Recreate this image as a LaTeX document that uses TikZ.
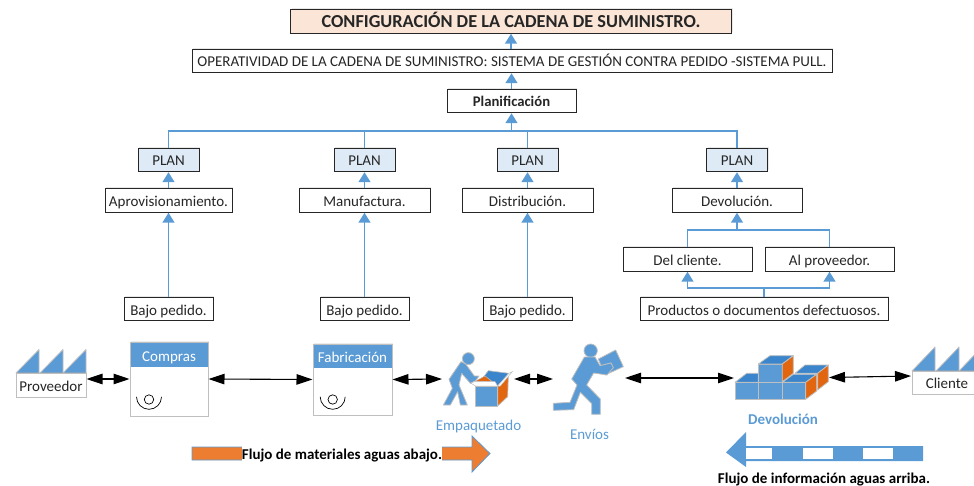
\documentclass[tikz,border=0pt]{standalone}
\usepackage{fontspec}
\setmainfont{Carlito}
\usetikzlibrary{arrows.meta,shadows}
\definecolor{azul}{HTML}{5B9BD5}
\definecolor{azuloscuro}{HTML}{3A85CC}
\definecolor{naranja}{HTML}{ED7D31}
\definecolor{naranjaoscuro}{HTML}{E2660F}
\definecolor{gris}{HTML}{BFBFBF}
\definecolor{salmon}{HTML}{FBE5D6}
\definecolor{celeste}{HTML}{DEEAF6}
\definecolor{texto}{HTML}{262626}
\tikzset{
	letra/.style={text height=13, text depth=1, font=\fontsize{15}{17}\selectfont},
	caja/.style={draw=black!85, line width=1, fill=white, text=texto, minimum height=23.5, inner sep=0, letra,
		drop shadow={shadow xshift=1, shadow yshift=-1.5, opacity=.18}},
	sube/.style={draw=azul, line width=1.5, -{Triangle[width=12, length=10]}},
	rama/.style={draw=azul, line width=1.5},
	doble/.style={black, line width=1.1, {Triangle[width=10.5, length=16]}-{Triangle[width=10.5, length=16]}},
	fabrica/.style={draw=gris, line width=1, fill=white, text=texto, inner sep=0, letra,
		drop shadow={shadow xshift=.5, shadow yshift=-1.5, opacity=.15}},
	ficha/.style={draw=gris, line width=1, fill=white, inner sep=0, drop shadow={shadow xshift=.5, shadow yshift=-1.5, opacity=.15}},
	cabecera/.style={fill=azul, text=white, inner sep=0, letra},
	icono/.style={fill=azul, draw=gris, line width=.8, line join=round},
	rotulo/.style={text=azul, inner sep=0, letra},
	leyenda/.style={text=black, inner sep=0, letra, font=\bfseries\fontsize{15}{17}\selectfont},
}
\begin{document}
\begin{tikzpicture}[x=1pt, y=-1pt]
	\useasboundingbox (0,0) rectangle (974,486);
	% 上部
	\node [caja, fill=salmon, minimum width=441, font=\bfseries\fontsize{18.3}{20}\selectfont] (config) at (511,21.5) {CONFIGURACIÓN DE LA CADENA DE SUMINISTRO.};
	\node [caja, minimum width=640] (oper) at (512,61) {OPERATIVIDAD DE LA CADENA DE SUMINISTRO: SISTEMA DE GESTIÓN CONTRA PEDIDO -SISTEMA PULL.};
	\node [caja, minimum width=129, font=\bfseries\fontsize{14.7}{17}\selectfont] (planif) at (511.5,101) {Planificación};
	\draw [sube] (oper.north -| config) -- (config);
	\draw [sube] (planif) -- (oper.south -| planif);
	% 四列
	\foreach \n/\x/\w/\t in {aprov/168.5/127/Aprovisionamiento., manuf/364.5/131/Manufactura., distr/527.5/131/Distribución., devol/737/130/Devolución.} {
		\node [caja, minimum width=61, fill=celeste] (plan\n) at (\x,160) {PLAN};
		\node [caja, minimum width=\w] (\n) at (\x,200.5) {\t};
		\draw [sube] (\n) -- (plan\n);
	}
	\coordinate (reparto) at (511.5,131);
	\draw [rama] (planaprov.north) -- (planaprov.north |- reparto) -- (plandevol.north |- reparto) -- (plandevol.north);
	\draw [rama] (planmanuf.north) -- (planmanuf.north |- reparto);
	\draw [rama] (plandistr.north) -- (plandistr.north |- reparto);
	\draw [sube] (reparto) -- (planif.south |- reparto) -- (planif.south);
	\foreach \n/\x in {aprov/168.5, manuf/364.5, distr/527.5} {
		\node [caja, minimum width=89] (bajo\n) at (\x,309) {Bajo pedido.};
		\draw [sube] (bajo\n) -- (\n);
	}
	% 退货
	\node [caja, minimum width=129] (delcliente) at (687.5,259.5) {Del cliente.};
	\node [caja, minimum width=129] (alprov) at (829.5,259.5) {Al proveedor.};
	\node [caja, minimum width=248] (defectos) at (764,309) {Productos o documentos defectuosos.};
	\coordinate (juntaalta) at (737,230);
	\coordinate (juntabaja) at (764,288);
	\draw [rama] (delcliente.north) -- (delcliente.north |- juntaalta) -- (alprov.north |- juntaalta) -- (alprov.north);
	\draw [sube] (juntaalta) -- (devol);
	\draw [rama] (defectos.north) -- (juntabaja);
	\draw [sube] (juntabaja) -- (delcliente.south |- juntabaja) -- (delcliente.south);
	\draw [sube] (juntabaja) -- (alprov.south |- juntabaja) -- (alprov.south);
	% 工厂
	\foreach \x in {16,40,63}
		\draw [icono] (\x,373) -- (\x+23,349.5) -- (\x+23,373) -- cycle;
	\node [fabrica, minimum width=70, minimum height=24] (proveedor) at (51,385) {Proveedor};
	\foreach \x in {912,936,959}
		\draw [icono] (\x,371) -- (\x+23,347) -- (\x+23,371) -- cycle;
	\node [fabrica, minimum width=70, minimum height=23] (cliente) at (947,382.5) {Cliente};
	% 流程框
	\node [ficha, minimum width=78, minimum height=74] (compras) at (169,379) {};
	\node [cabecera, minimum width=77, minimum height=24] (comprastit) at (169,355) {Compras};
	\node [ficha, minimum width=79, minimum height=71] (fabricacion) at (352.5,379.5) {};
	\node [cabecera, minimum width=78, minimum height=23] (fabricaciontit) at (352.5,356.5) {Fabricación};
	\foreach \x in {149,332.7} {
		\draw [black, line width=.7] (\x,399.5) circle [radius=4.7];
		\draw [black, line width=.7] (\x-12.5,396.8) arc [start angle=180, end angle=360, radius=12.5, y radius=-12.5];
	}
	% 打包
	\begin{scope}[shift={(435,340)}, x=1/3*1pt, y=-1/3*1pt]
		\draw [icono] (100,56) circle [radius=18];
		\draw [icono] (78,65) -- (42,118) -- (52,145) -- (25,195) -- (46,195) -- (68,155) -- (76,195) -- (97,195) -- (72,135) -- (80,100) -- (106,130) -- (122,122) -- (132,108) -- (118,108) -- (92,72) -- cycle;
		\draw [fill=azuloscuro, draw=gris, line width=.7] (140,118) -- (160,92) -- (222,100) -- (188,138) -- cycle;
		\draw [fill=naranjaoscuro, draw=gris, line width=.7] (188,138) -- (220,108) -- (218,170) -- (188,198) -- cycle;
		\draw [fill=white, draw=gris, line width=.5] (188,138) -- (222,100) -- (232,95) -- (196,138) -- cycle;
		\draw [fill=naranjaoscuro, draw=gris, line width=.5] (118,125) -- (150,108) -- (172,125) -- cycle;
		\draw [fill=white, draw=gris, line width=.5] (108,130) -- (118,125) -- (180,125) -- (188,138) -- (122,138) -- cycle;
		\draw [icono] (122,138) rectangle (188,198);
	\end{scope}
	\node [rotulo] (empaquetado) at (478.5,424.5) {Empaquetado};
	% 送货
	\begin{scope}[shift={(545,335)}, x=1/3*1pt, y=-1/3*1pt]
		\draw [icono] (160,72) -- (212,45) -- (235,95) -- (180,120) -- (176,112) -- (205,98) -- (198,84) -- (168,92) -- cycle;
		\draw [icono] (137,47) circle [radius=20];
		\draw [icono] (118,66) -- (80,132) -- (96,150) -- (75,202) -- (25,205) -- (25,226) -- (86,224) -- (106,172) -- (140,206) -- (140,238) -- (166,238) -- (166,192) -- (125,150) -- (146,114) -- (186,120) -- (205,98) -- (198,84) -- (165,92) -- (150,66) -- cycle;
	\end{scope}
	\node [rotulo] (envios) at (589.5,433) {Envíos};
	% 箱子
	\begin{scope}[shift={(725,345)}, x=1/3*1pt, y=-1/3*1pt]
		\draw [icono, fill=azuloscuro] (210,85) -- (278,85) -- (310,60) -- (240,60) -- cycle;
		\draw [icono, fill=naranjaoscuro] (278,85) -- (310,60) -- (310,110) -- (278,135) -- cycle;
		\draw [icono, fill=azuloscuro] (30,112) -- (100,112) -- (100,85) -- (65,85) -- cycle;
		\draw [icono] (100,57) rectangle (172,112);
		\draw [icono, fill=azuloscuro] (100,57) -- (172,57) -- (205,32) -- (135,32) -- cycle;
		\draw [icono, fill=naranjaoscuro] (172,57) -- (205,32) -- (205,85) -- (172,110) -- cycle;
		\draw [icono, fill=azuloscuro] (172,112) -- (242,112) -- (275,88) -- (205,88) -- cycle;
		\draw [icono, fill=naranjaoscuro] (242,112) -- (275,88) -- (275,138) -- (242,163) -- cycle;
		\draw [icono] (30,112) rectangle (100,163);
		\draw [icono] (100,112) rectangle (172,163);
		\draw [icono] (172,112) rectangle (242,163);
	\end{scope}
	\node [rotulo, font=\bfseries\fontsize{15}{17}\selectfont] (devolucion) at (783,418) {Devolución};
	% 流程箭头
	\coordinate (empaqizq) at (442,379);
	\coordinate (empaqder) at (514,379);
	\coordinate (enviosizq) at (553,379);
	\coordinate (enviosder) at (625,378);
	\coordinate (devolizq) at (734,378);
	\coordinate (devolder) at (829,377.5);
	\coordinate (clienteizq) at (911,376);
	\draw [doble] (proveedor.east |- compras.west) -- (compras.west);
	\draw [doble] (compras.east) -- (fabricacion.west);
	\draw [doble] (fabricacion.east) -- (empaqizq);
	\draw [doble] (empaqder) -- (enviosizq);
	\draw [doble] (enviosder) -- (devolizq);
	\draw [doble] (devolder) -- (clienteizq);
	% 物料流
	\draw [draw=azul, fill=naranja, line width=.8] (192,447) -- (472,447) -- (472,436) -- (490,453.5) -- (472,472) -- (472,460) -- (192,460) -- cycle;
	\node [leyenda, fill=white, minimum width=200, minimum height=18] (flujomat) at (342,453.5) {Flujo de materiales aguas abajo.};
	% 信息流
	\fill [azul] (923,446) -- (746,446) -- (746,432) -- (726,452.5) -- (746,467) -- (746,461) -- (923,461) -- cycle;
	\foreach \a/\b in {746/772, 802.5/833, 863/893}
		\fill [white] (\a,447.5) rectangle (\b,459);
	\node [leyenda] (flujoinf) at (824,477) {Flujo de información aguas arriba.};
\end{tikzpicture}
\end{document}
